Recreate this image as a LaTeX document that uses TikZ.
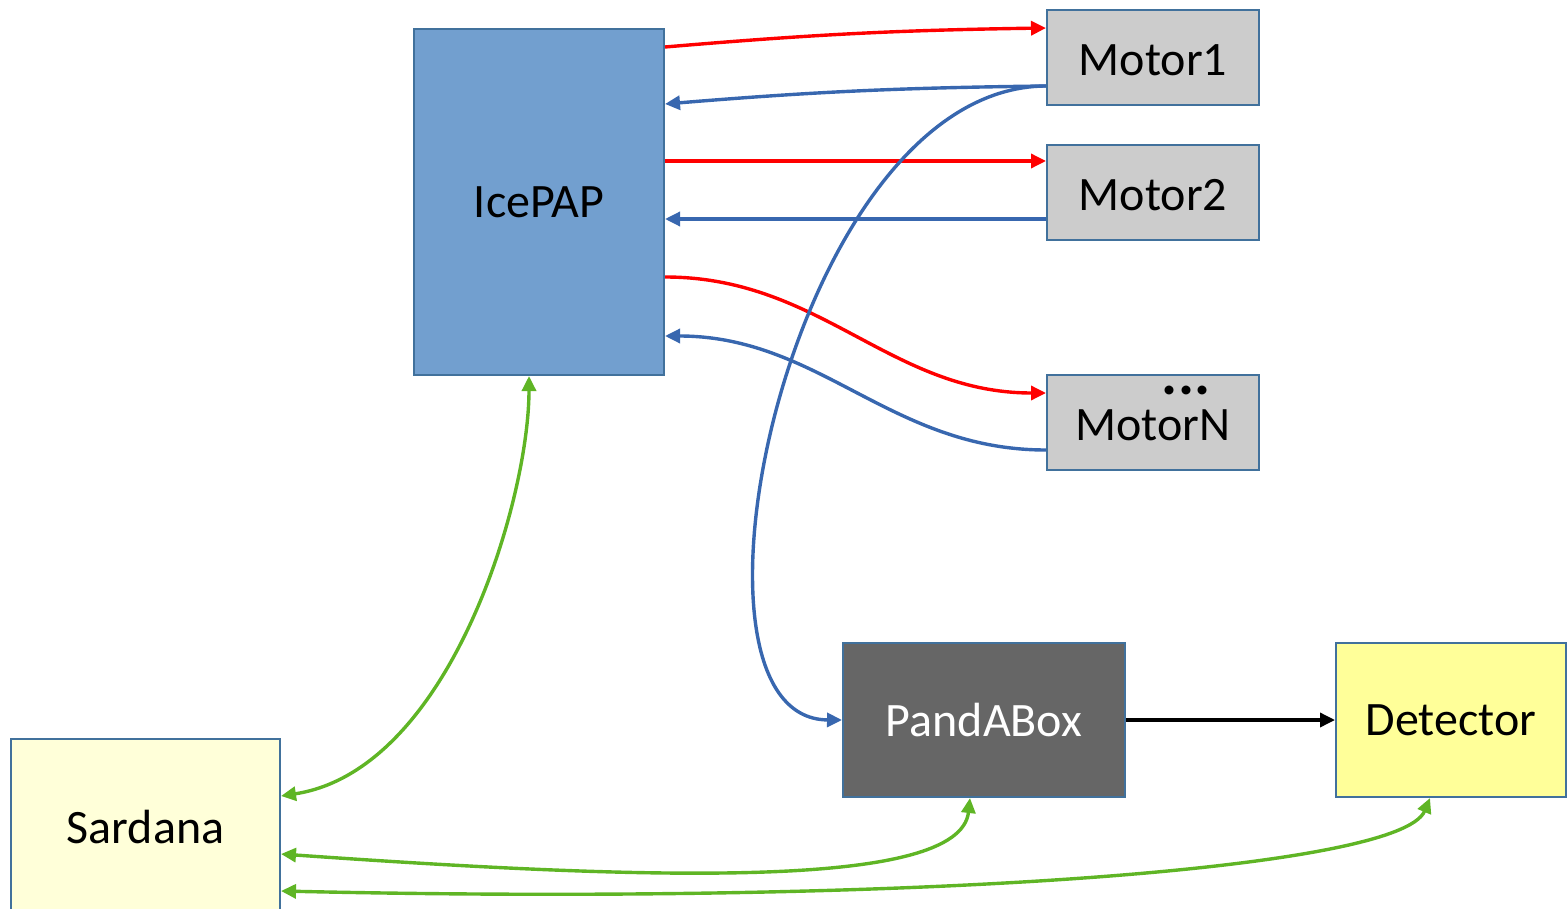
\documentclass[tikz,border=0pt]{standalone}
\usepackage{fontspec}
\setmainfont{Carlito}
\usetikzlibrary{arrows.meta}

\definecolor{boxline}{HTML}{41719C}
\definecolor{icefill}{HTML}{729FCF}
\definecolor{motorfill}{HTML}{CCCCCC}
\definecolor{pandafill}{HTML}{666666}
\definecolor{detfill}{HTML}{FFFF99}
\definecolor{sarfill}{HTML}{FFFFD9}
\definecolor{sigred}{HTML}{FF0000}
\definecolor{sigblue}{HTML}{3867AF}
\definecolor{siggreen}{HTML}{5FB525}

\begin{document}
\begin{tikzpicture}[x=0.5pt, y=-0.5pt,
  box/.style={draw=boxline, line width=1pt, inner sep=0pt, font=\fontsize{24}{28}\selectfont},
  motorbox/.style={box, fill=motorfill, minimum width=106pt, minimum height=47.5pt},
  redlink/.style={draw=sigred, line width=1.7pt, -{Triangle[length=7.5pt, width=7pt]}},
  bluelink/.style={draw=sigblue, line width=1.7pt, -{Triangle[length=7.5pt, width=7pt]}},
  greenlink/.style={draw=siggreen, line width=1.7pt, {Triangle[length=7.5pt, width=7pt]}-{Triangle[length=7.5pt, width=7pt]}}]
\useasboundingbox (0,0) rectangle (1567,909);
\clip (0,0) rectangle (1567,909);

% boxes
\node[box, fill=icefill, minimum width=125pt, minimum height=173pt] (icepap) at (539,202) {IcePAP};
\node[motorbox] (motor1) at (1153,57.5) {};
\node[font=\fontsize{24}{28}\selectfont] (label1) at (1153,60) {Motor1};
\node[motorbox] (motor2) at (1153,192.5) {};
\node[font=\fontsize{24}{28}\selectfont] (label2) at (1153,195) {Motor2};
\node[motorbox] (motorN) at (1153,422.5) {};
\node[font=\fontsize{24}{28}\selectfont] (labelN) at (1153,425) {MotorN};
\node[font=\fontsize{30}{34}\selectfont\bfseries, anchor=base, inner sep=0pt] (dotsN) at (1186,394) {...};
\node[box, fill=pandafill, text=white, minimum width=141pt, minimum height=77pt] (panda) at (984,720) {PandABox};
\node[box, fill=detfill, minimum width=115pt, minimum height=77pt] (detector) at (1451,720) {Detector};
\node[box, fill=sarfill, minimum width=134.5pt, minimum height=88pt] (sardana) at (145.5,827) {Sardana};

% IcePAP <-> motors
\draw[redlink] ([shift={(0,19)}]icepap.north east) to[bend left=2] ([shift={(0,19)}]motor1.north west);
\draw[bluelink] ([shift={(0,77)}]motor1.north west) to[bend right=2] ([shift={(0,76)}]icepap.north east);
\draw[redlink] ([shift={(0,133)}]icepap.north east) -- ([shift={(0,17)}]motor2.north west);
\draw[bluelink] ([shift={(0,75)}]motor2.north west) -- ([shift={(0,191)}]icepap.north east);
\draw[redlink] ([shift={(0,249)}]icepap.north east) to[out=0, in=180] ([shift={(0,19)}]motorN.north west);
\draw[bluelink] ([shift={(0,76)}]motorN.north west) to[out=180, in=0] ([shift={(0,308)}]icepap.north east);

% motor1 -> PandABox -> detector
\draw[bluelink] ([shift={(0,77)}]motor1.north west) .. controls (790,87) and (660,719) .. (panda.west);
\draw[black, line width=1.7pt, -{Triangle[length=7.5pt, width=7pt]}] (panda.east) -- (detector.west);

% Sardana links
\draw[greenlink] ([shift={(0,58)}]sardana.north east) .. controls (450,770) and (529,500) .. ([shift={(-10,0)}]icepap.south);
\draw[greenlink] ([shift={(0,116)}]sardana.north east) .. controls (650,880) and (960,890) .. ([shift={(-14,0)}]panda.south);
\draw[greenlink] ([shift={(0,153)}]sardana.north east) .. controls (900,905) and (1400,870) .. ([shift={(-21,0)}]detector.south);
\end{tikzpicture}
\end{document}
